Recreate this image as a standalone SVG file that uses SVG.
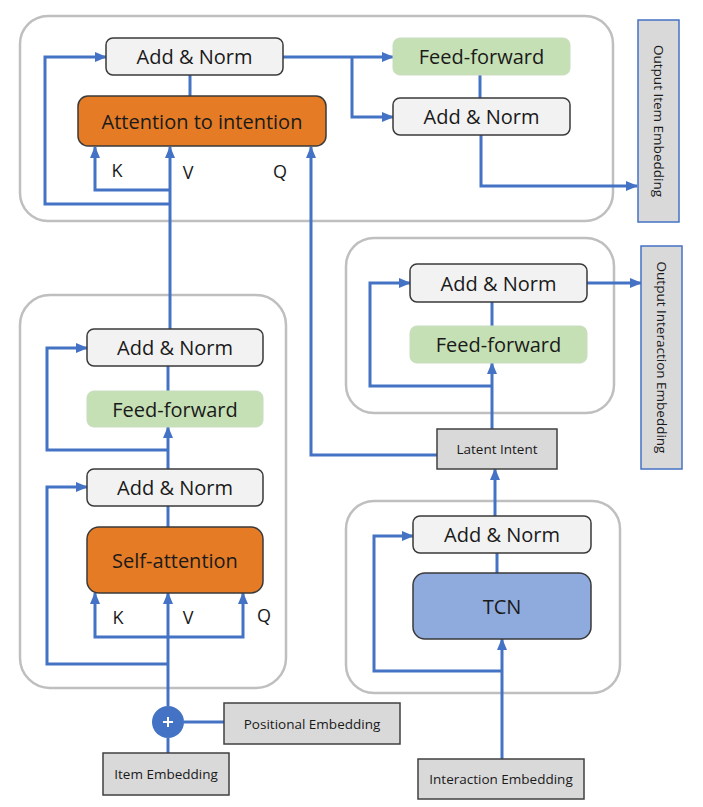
<svg xmlns="http://www.w3.org/2000/svg" width="703" height="807" viewBox="0 0 703 807">
<defs>
<style>
.cont{fill:#ffffff;stroke:#bfbfbf;stroke-width:2.5}
.an{fill:#f2f2f2;stroke:#3a3a3a;stroke-width:1.5}
.ff{fill:#c5e0b4;stroke:#c9dcc0;stroke-width:1}
.att{fill:#e57b25;stroke:#3a3a3a;stroke-width:1.5}
.tcn{fill:#8faadc;stroke:#3a3a3a;stroke-width:1.5}
.gb{fill:#d9d9d9;stroke:#404040;stroke-width:1.5}
.ob{fill:#d9d9d9;stroke:#4472c4;stroke-width:1.5}
.t{font-family:"Open Sans","Noto Sans",sans-serif;font-size:20px;fill:#1a1a1a;text-anchor:middle;dominant-baseline:central}
.s{font-family:"Open Sans","Noto Sans",sans-serif;font-size:13.5px;fill:#1a1a1a;text-anchor:middle;dominant-baseline:central}
.lb{font-family:"Open Sans","Noto Sans",sans-serif;font-size:18px;fill:#1a1a1a;text-anchor:middle;dominant-baseline:central}
.c{fill:none;stroke:#4472c4;stroke-width:3}
.a{marker-end:url(#ah)}
</style>
<marker id="ah" markerUnits="userSpaceOnUse" markerWidth="12" markerHeight="10" refX="11" refY="5" orient="auto">
<path d="M0,0 L12,5 L0,10 z" fill="#4472c4"/>
</marker>
</defs>
<rect width="703" height="807" fill="#ffffff"/>

<g id="containers">
<rect class="cont" x="20" y="16" width="593" height="205" rx="28"/>
<rect class="cont" x="20" y="295" width="266" height="393" rx="30"/>
<rect class="cont" x="346" y="238" width="268" height="175" rx="28"/>
<rect class="cont" x="346" y="501" width="274" height="192" rx="28"/>
</g>

<g id="connectors">
<path class="c a" d="M170,204 L45,204 L45,57 L106,57"/>
<path class="c a" d="M170,190 L95,190 L95,147"/>
<path class="c a" d="M170,329 L170,147"/>
<path class="c" d="M190,96 L190,75"/>
<path class="c a" d="M283,57 L393,57"/>
<path class="c a" d="M352,57 L352,117 L393,117"/>
<path class="c" d="M480,75 L480,98"/>
<path class="c a" d="M481,135 L481,186 L637,186"/>
<path class="c a" d="M437,455 L311,455 L311,147"/>

<path class="c" d="M168,366 L168,391"/>
<path class="c a" d="M168,469 L168,427"/>
<path class="c a" d="M168,450 L47,450 L47,348 L87,348"/>
<path class="c" d="M168,506 L168,527"/>
<path class="c a" d="M168,664 L47,664 L47,487 L87,487"/>
<path class="c a" d="M168,706 L168,593"/>
<path class="c a" d="M168,637 L95,637 L95,593"/>
<path class="c a" d="M168,637 L243,637 L243,593"/>
<path class="c" d="M184,722 L224,722"/>
<path class="c" d="M168,753 L168,738"/>

<path class="c" d="M492,302 L492,326"/>
<path class="c a" d="M492,429 L492,363"/>
<path class="c a" d="M492,386 L370,386 L370,283 L410,283"/>
<path class="c a" d="M587,283 L641,283"/>

<path class="c a" d="M495,516 L495,469"/>
<path class="c" d="M497,553 L497,573"/>
<path class="c a" d="M502,759 L502,639"/>
<path class="c a" d="M502,671 L374,671 L374,536 L413,536"/>
</g>

<g id="top-addnorm"><rect class="an" x="106" y="38" width="177" height="37" rx="7"/><text class="t" x="194.5" y="56.5">Add &amp; Norm</text></g>
<g id="attention-to-intention"><rect class="att" x="78" y="96" width="248" height="50" rx="10"/><text class="t" x="202" y="121">Attention to intention</text></g>
<g id="top-ff"><rect class="ff" x="393" y="38" width="177" height="37" rx="7"/><text class="t" x="481.5" y="56.5">Feed-forward</text></g>
<g id="top-addnorm2"><rect class="an" x="393" y="98" width="177" height="37" rx="7"/><text class="t" x="481.5" y="116.5">Add &amp; Norm</text></g>
<g id="labels-top"><text class="lb" x="117" y="170">K</text><text class="lb" x="188" y="172">V</text><text class="lb" x="280" y="171">Q</text></g>
<g id="output-item"><rect class="ob" x="638" y="20" width="41" height="202"/><text class="s" transform="translate(658.5,121) rotate(90)" x="0" y="0">Output Item Embedding</text></g>

<g id="sa-addnorm1"><rect class="an" x="87" y="329" width="176" height="37" rx="7"/><text class="t" x="175" y="347.5">Add &amp; Norm</text></g>
<g id="sa-ff"><rect class="ff" x="87" y="391" width="176" height="36" rx="7"/><text class="t" x="175" y="409">Feed-forward</text></g>
<g id="sa-addnorm2"><rect class="an" x="87" y="469" width="176" height="37" rx="7"/><text class="t" x="175" y="487.5">Add &amp; Norm</text></g>
<g id="self-attention"><rect class="att" x="87" y="527" width="176" height="66" rx="12"/><text class="t" x="175" y="560">Self-attention</text></g>
<g id="labels-sa"><text class="lb" x="118" y="617">K</text><text class="lb" x="188" y="617">V</text><text class="lb" x="264" y="615">Q</text></g>
<g id="plus"><circle cx="168" cy="722" r="16" fill="#4472c4"/><path d="M163,722 L173,722 M168,717 L168,727" stroke="#ffffff" stroke-width="2"/></g>
<g id="positional-embedding"><rect class="gb" x="224" y="703" width="176" height="41"/><text class="s" x="312" y="723.5">Positional Embedding</text></g>
<g id="item-embedding"><rect class="gb" x="103" y="753" width="126" height="42"/><text class="s" x="166" y="774">Item Embedding</text></g>

<g id="int-addnorm"><rect class="an" x="410" y="264" width="177" height="38" rx="7"/><text class="t" x="498.5" y="283">Add &amp; Norm</text></g>
<g id="int-ff"><rect class="ff" x="410" y="326" width="177" height="37" rx="7"/><text class="t" x="498.5" y="344.5">Feed-forward</text></g>
<g id="output-interaction"><rect class="ob" x="641" y="246" width="41" height="223"/><text class="s" transform="translate(661.5,357.5) rotate(90)" x="0" y="0">Output Interaction Embedding</text></g>
<g id="latent-intent"><rect class="gb" x="437" y="429" width="120" height="40"/><text class="s" x="497" y="449">Latent Intent</text></g>

<g id="tcn-addnorm"><rect class="an" x="413" y="516" width="178" height="37" rx="7"/><text class="t" x="502" y="534.5">Add &amp; Norm</text></g>
<g id="tcn"><rect class="tcn" x="413" y="573" width="178" height="66" rx="12"/><text class="t" x="502" y="606">TCN</text></g>
<g id="interaction-embedding"><rect class="gb" x="418" y="759" width="166" height="40"/><text class="s" x="501" y="779">Interaction Embedding</text></g>
</svg>
